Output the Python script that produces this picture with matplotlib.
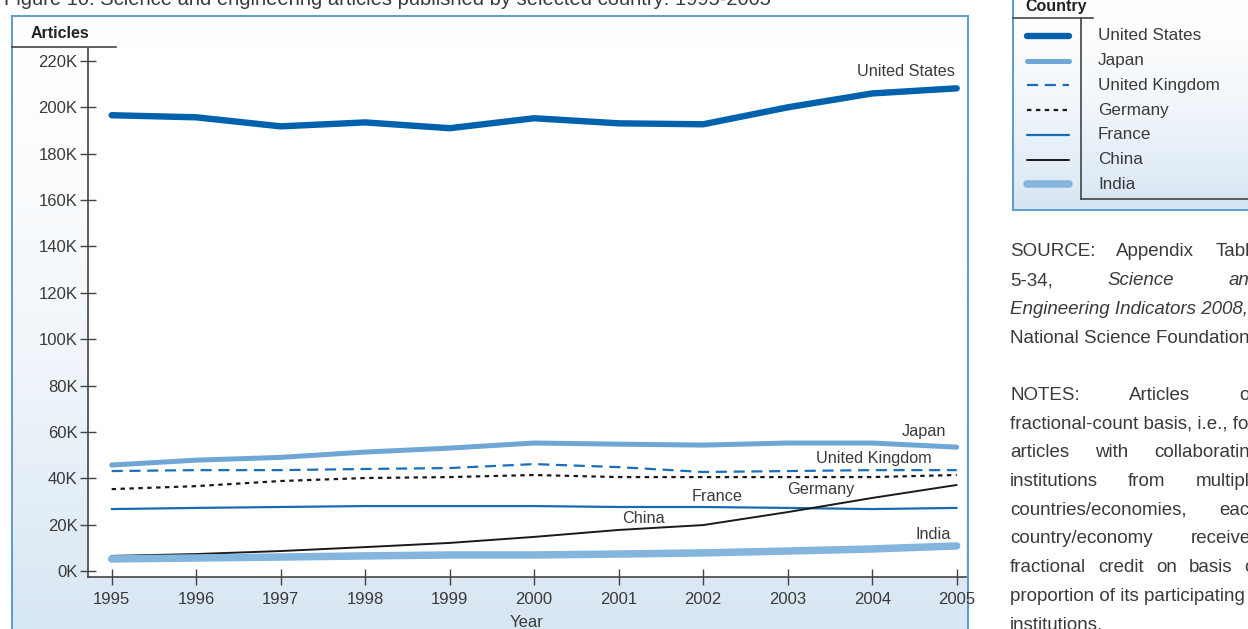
import numpy as np
import matplotlib
matplotlib.use("Agg")
import matplotlib.pyplot as plt
from matplotlib.lines import Line2D
from matplotlib import font_manager

plt.rcParams['font.family'] = ['Liberation Sans', 'DejaVu Sans']

# data (thousands of articles)
years = [1995, 1996, 1997, 1998, 1999, 2000, 2001, 2002, 2003, 2004, 2005]
us = [196.6, 195.7, 191.8, 193.5, 191.0, 195.3, 193.1, 192.7, 200.0, 206.0, 208.2]
japan = [45.7, 47.8, 49.0, 51.3, 53.0, 55.2, 54.7, 54.3, 55.2, 55.2, 53.4]
uk = [43.1, 43.5, 43.5, 44.0, 44.4, 46.1, 44.8, 42.7, 43.1, 43.5, 43.5]
germany = [35.3, 36.6, 38.8, 40.1, 40.5, 41.4, 40.5, 40.5, 40.5, 40.5, 41.4]
france = [26.7, 27.2, 27.6, 28.0, 28.0, 28.0, 27.6, 27.6, 27.2, 26.7, 27.2]
china = [6.5, 7.3, 8.6, 10.3, 12.1, 14.7, 17.7, 19.8, 25.4, 31.5, 37.1]
india = [5.2, 5.6, 6.0, 6.5, 6.9, 6.9, 7.3, 7.8, 8.6, 9.5, 10.8]
yticks = [0, 20, 40, 60, 80, 100, 120, 140, 160, 180, 200, 220]

series = [
    ("United States", us, dict(color="#0062ad", lw=4.6, ls="-")),
    ("Japan", japan, dict(color="#6fa6d6", lw=3.6, ls="-")),
    ("United Kingdom", uk, dict(color="#1a6fb8", lw=1.6, ls=(0, (5, 3)))),
    ("Germany", germany, dict(color="#1a1a1a", lw=1.6, ls=(0, (2, 2)))),
    ("France", france, dict(color="#1a6ab3", lw=1.6, ls="-")),
    ("China", china, dict(color="#1a1a1a", lw=1.4, ls="-")),
    ("India", india, dict(color="#84b5dd", lw=5.4, ls="-")),
]

# narrow font for the side notes if available
names = {f.name for f in font_manager.fontManager.ttflist}
if "Liberation Sans Narrow" in names:
    note_family, note_size = ["Liberation Sans Narrow", "DejaVu Sans"], 15.5
else:
    note_family, note_size = ["Liberation Sans", "DejaVu Sans"], 13.5

W, H = 1248, 629
fig = plt.figure(figsize=(W / 100, H / 100), dpi=100)
txt = "#3a3a3a"


def fx(px):
    return px / W


def fy(py):
    return 1 - py / H


def panel(x0, y0, x1, y1):
    bg = fig.add_axes([fx(x0), fy(y1), fx(x1 - x0), fy(y0) - fy(y1)], zorder=0)
    grad = np.linspace(0, 1, 256) ** 1.6
    top = np.array([1.0, 1.0, 1.0])
    bot = np.array([0.84, 0.9, 0.95])
    img = top[None, :] * (1 - grad[:, None]) + bot[None, :] * grad[:, None]
    bg.imshow(img[:, None, :], aspect="auto", extent=[0, 1, 0, 1])
    bg.set_xticks([])
    bg.set_yticks([])
    for s in bg.spines.values():
        s.set_color("#5b9bd1")
        s.set_linewidth(1.4)
    return bg


# main panel and legend panel backgrounds
panel(12, 16, 968, 640)
panel(1013, -10, 1260, 210)

fig.text(fx(4), fy(5), "Figure 10: Science and engineering articles published by selected country: 1995-2005",
         fontsize=14.5, color=txt, va="baseline")

ax = fig.add_axes([fx(88), fy(577), fx(966 - 88), fy(48) - fy(577)], zorder=2)
ax.set_facecolor("white")
for name, vals, st in series:
    ax.plot(years, vals, color=st["color"], lw=st["lw"], ls=st["ls"],
            solid_capstyle="round", label=name)

ax.set_xlim(1994.72, 2005.11)
ax.set_ylim(-2.6, 225.6)
ax.set_xticks(years)
ax.set_yticks(yticks)
ax.set_yticklabels([f"{v}K" for v in yticks])
ax.tick_params(direction="inout", length=11, width=1, color="#444444",
               labelsize=12, labelcolor=txt)
ax.tick_params(axis="y", pad=2)
ax.tick_params(axis="x", pad=5)
for s in ["top", "right"]:
    ax.spines[s].set_visible(False)
for s in ["left", "bottom"]:
    ax.spines[s].set_color("#444444")
    ax.spines[s].set_linewidth(1.2)
ax.set_xlabel("Year", fontsize=12, color=txt, labelpad=6)

# direct labels
labels = [
    ("United States", 2004.98, 215.5),
    ("Japan", 2004.88, 60.3),
    ("United Kingdom", 2004.70, 48.7),
    ("Germany", 2003.79, 35.3),
    ("France", 2002.47, 32.3),
    ("China", 2001.54, 22.8),
    ("India", 2004.93, 15.9),
]
for t, x, y in labels:
    ax.text(x, y, t, ha="right", va="center", fontsize=11.7, color=txt)

# "Articles" header
fig.text(fx(60), fy(33), "Articles", ha="center", va="center", fontsize=11.5,
         fontweight="bold", color="#222222")
fig.add_artist(Line2D([fx(12), fx(116)], [fy(47), fy(47)], color="#444444", lw=1.2))

# legend box
fig.text(fx(1056), fy(7), "Country", ha="center", va="center", fontsize=11.5,
         fontweight="bold", color="#222222", zorder=5)
fig.add_artist(Line2D([fx(1013), fx(1093)], [fy(18), fy(18)], color="#444444", lw=1.2))
fig.add_artist(Line2D([fx(1081), fx(1081)], [fy(18), fy(199)], color="#444444", lw=1.2))
fig.add_artist(Line2D([fx(1081), fx(1248)], [fy(199), fy(199)], color="#444444", lw=1.2))
for i, (name, vals, st) in enumerate(series):
    yy = fy(36 + i * 24.7)
    fig.add_artist(Line2D([fx(1027), fx(1069)], [yy, yy], color=st["color"],
                          lw=st["lw"], ls=st["ls"], solid_capstyle="round"))
    fig.text(fx(1098), yy, name, va="center", fontsize=12.3, color=txt)

# source / notes text (justified lines)
note_lines = [
    (["SOURCE:", "Appendix", "Table"], True, False),
    (["5-34,", "Science", "and"], True, [False, True, True]),
    (["Engineering Indicators 2008,"], False, True),
    (["National Science Foundation."], False, False),
    None,
    (["NOTES:", "Articles", "on"], True, False),
    (["fractional-count basis, i.e., for"], False, False),
    (["articles", "with", "collaborating"], True, False),
    (["institutions", "from", "multiple"], True, False),
    (["countries/economies,", "each"], True, False),
    (["country/economy", "receives"], True, False),
    (["fractional", "credit", "on", "basis", "of"], True, False),
    (["proportion of its participating"], False, False),
    (["institutions."], False, False),
]
x_left, x_right = 1010, 1260
fig.canvas.draw()
rend = fig.canvas.get_renderer()
py = 252
for entry in note_lines:
    if entry is None:
        py += 28.7
        continue
    words, justify, ital = entry
    if not isinstance(ital, list):
        ital = [ital] * len(words)
    arts = []
    for w, it in zip(words, ital):
        a = fig.text(fx(x_left), fy(py), w, va="center", fontsize=note_size, color=txt,
                     family=note_family, style="italic" if it else "normal")
        arts.append(a)
    if justify and len(arts) > 1:
        widths = [a.get_window_extent(rend).width for a in arts]
        gap = (x_right - x_left - sum(widths)) / (len(arts) - 1)
        cur = x_left
        for a, wd in zip(arts, widths):
            a.set_x(fx(cur))
            cur += wd + gap
    py += 28.7

fig.savefig("out.png", dpi=100)
